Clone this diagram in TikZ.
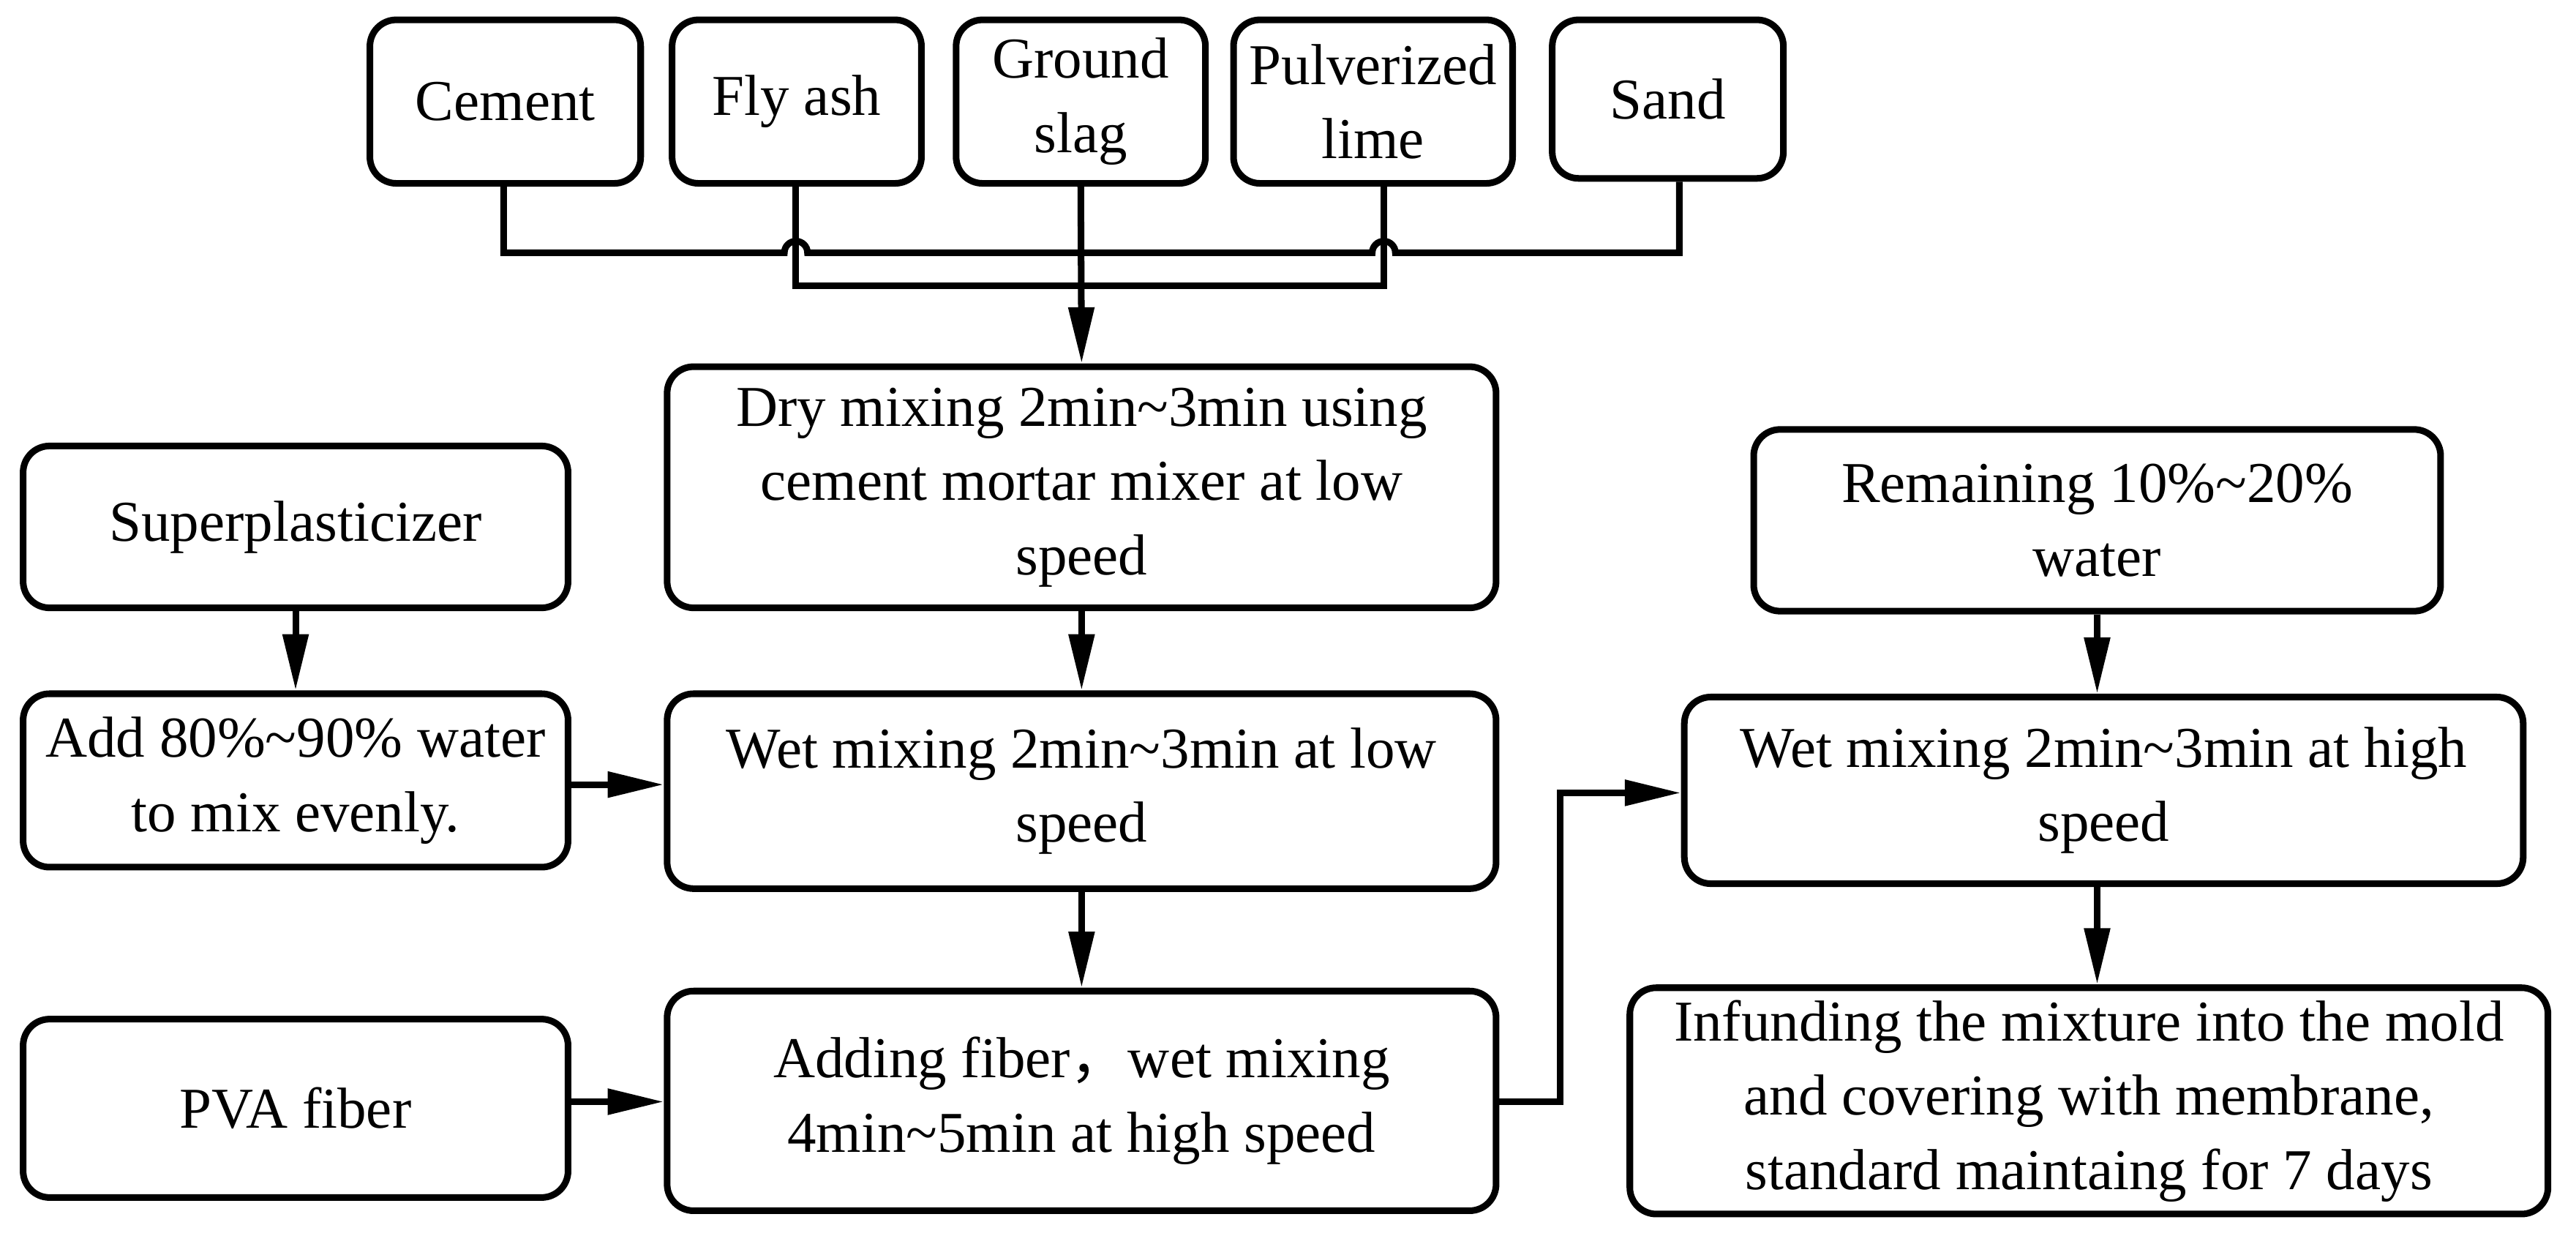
\documentclass[tikz,border=0pt]{standalone}
\usepackage{fontspec}
\setmainfont{Liberation Serif}
\newfontfamily\cjk{Noto Sans CJK SC}
\usetikzlibrary{arrows.meta}
\begin{document}
\begin{tikzpicture}[x=1pt,y=-1pt,
  box/.style={draw,line width=4pt,rounded corners=16pt,align=center,inner sep=0pt,
    font=\fontsize{35}{45}\selectfont},
  ln/.style={line width=4pt},
  ar/.style={line width=4pt,-{Triangle[length=34pt,width=15pt]}}]
\useasboundingbox (0,0) rectangle (1560,748);
\newcommand\bx[6]{\node[box,minimum width=#3-#2-4,minimum height=#5-#4-4] (#1) at ({(#2+#3)/2},{(#4+#5)/2}) {#6};}
\bx{cem}{222}{390}{10}{113}{Cement}
\bx{fly}{405}{560}{10}{113}{Fly ash}
\bx{gs}{577}{732}{10}{113}{Ground\\slag}
\bx{pl}{745}{918}{10}{113}{Pulverized\\lime}
\bx{sand}{938}{1082}{10}{110}{Sand}
\bx{dry}{402}{908}{220}{370}{Dry mixing 2min\textasciitilde3min using\\cement mortar mixer at low\\speed}
\bx{sup}{12}{346}{268}{370}{Superplasticizer}
\bx{rem}{1060}{1480}{258}{372}{Remaining 10\%\textasciitilde20\%\\water}
\bx{add}{12}{346}{418}{527}{Add 80\%\textasciitilde90\% water\\to mix evenly.}
\bx{wl}{402}{908}{418}{540}{Wet mixing 2min\textasciitilde3min at low\\speed}
\bx{wh}{1018}{1530}{420}{537}{Wet mixing 2min\textasciitilde3min at high\\speed}
\bx{pva}{12}{346}{615}{727}{PVA fiber}
\bx{fib}{402}{908}{598}{735}{Adding fiber{\cjk ，}wet mixing\\4min\textasciitilde5min at high speed}
\bx{inf}{985}{1545}{596}{737}{Infunding the mixture into the mold\\and covering with membrane,\\standard maintaing for 7 days}
\coordinate (c1) at (305,153);
\draw[ln] (cem.south -| c1) -- (c1) -- (475,153) arc (180:360:7) -- (831,153) arc (180:360:7) -- (1017,153) -- (sand.south -| 1017,0);
\draw[ln] (fly.south -| 482,0) -- (482,173) -- (838,173) -- (pl.south -| 838,0);
\draw[ar] (gs.south) -- (dry.north);
\draw[ar] (dry.south) -- (wl.north);
\draw[ar] (sup.south) -- (add.north);
\draw[ar] (add.east |- 0,475) -- (wl.west |- 0,475);
\draw[ar] (wl.south) -- (fib.north);
\draw[ar] (pva.east |- 0,667) -- (fib.west |- 0,667);
\coordinate (k) at (945,480);
\draw[ar] (fib.east |- 0,667) -- (945,667) -- (k) -- (wh.west |- k);
\draw[ar] (rem.south -| 1270,0) -- (wh.north -| 1270,0);
\draw[ar] (wh.south -| 1270,0) -- (inf.north -| 1270,0);
\end{tikzpicture}
\end{document}
